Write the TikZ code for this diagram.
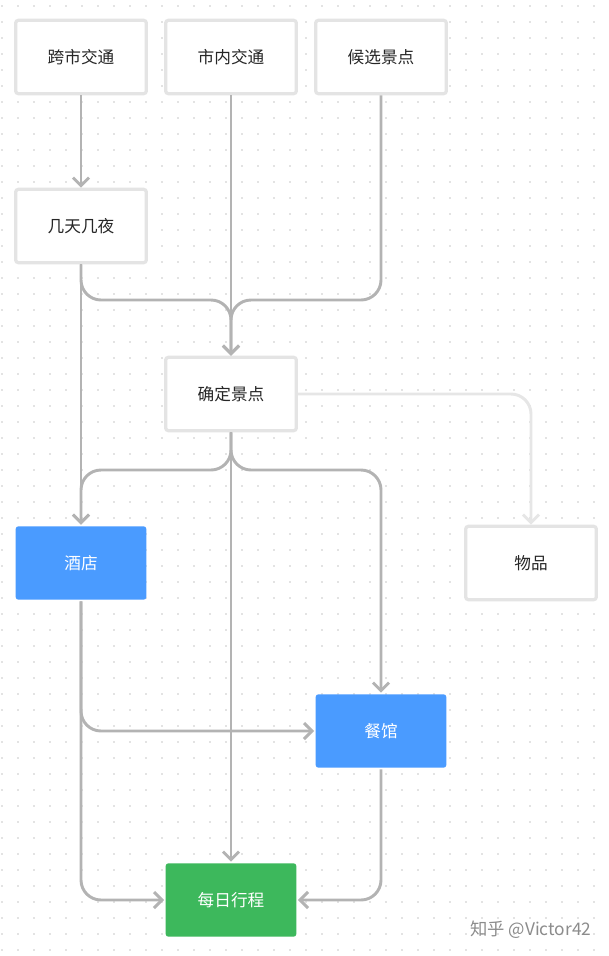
\documentclass[tikz,border=0pt]{standalone}
\usepackage{fontspec}
\setmainfont{Noto Sans CJK SC}
\usetikzlibrary{arrows.meta}
\definecolor{edge}{HTML}{B3B3B3}
\definecolor{lite}{HTML}{E6E6E6}
\definecolor{bord}{HTML}{E4E4E4}
\definecolor{blu}{HTML}{4A9BFF}
\definecolor{grn}{HTML}{3DB85C}
\begin{document}
\begin{tikzpicture}[x=0.75pt,y=-0.75pt,
  box/.style={draw=bord,line width=2.4pt,fill=white,rounded corners=2pt,minimum width=98pt,minimum height=55pt,inner sep=0pt,font=\fontsize{12.5}{14}\selectfont,text=black!85},
  blue/.style={box,draw=none,fill=blu,text=white},
  green/.style={box,draw=none,fill=grn,text=white},
  con/.style={draw=edge,line width=2.2pt,rounded corners=15pt,-{Straight Barb[length=6pt,width=12pt,line width=2.2pt]}}]
\useasboundingbox (0,0) rectangle (609,956);
\fill[white] (0,0) rectangle (609,956);
\foreach \i in {0,...,38}{\foreach \j in {0,...,60}{\fill[black!22] (\i*16+2,\j*16+6) circle (0.6pt);}}
\node[box] (a) at (81,57) {跨市交通};
\node[box] (b) at (231,57) {市内交通};
\node[box] (c) at (381,57) {候选景点};
\node[box] (d) at (81,226) {几天几夜};
\node[box] (e) at (231,394) {确定景点};
\node[blue] (h) at (81,563) {酒店};
\node[box] (w) at (531,563) {物品};
\node[blue] (r) at (381,731) {餐馆};
\node[green] (t) at (231,900) {每日行程};
\node[text=black!45,font=\fontsize{13}{15}\selectfont,anchor=east] (wm) at (596,930) {知乎 @Victor42};
\draw[con] (a) -- (d);
\draw[con] (d) -- (h);
\draw[con] (d.south) -- (81,300) -| (e.north);
\draw[con] (c.south) -- (381,300) -| (e.north);
\draw[con] (b) -- (e);
\draw[con,draw=lite] (e.east) -| (w.north);
\draw[con] (e.south) -- (231,470) -| (h.north);
\draw[con] (e.south) -- (231,470) -| (r.north);
\draw[con] (e) -- (t);
\draw[con] (h.south) |- (r.west);
\draw[con] (h.south) |- (t.west);
\draw[con] (r.south) |- (t.east);
\end{tikzpicture}
\end{document}
